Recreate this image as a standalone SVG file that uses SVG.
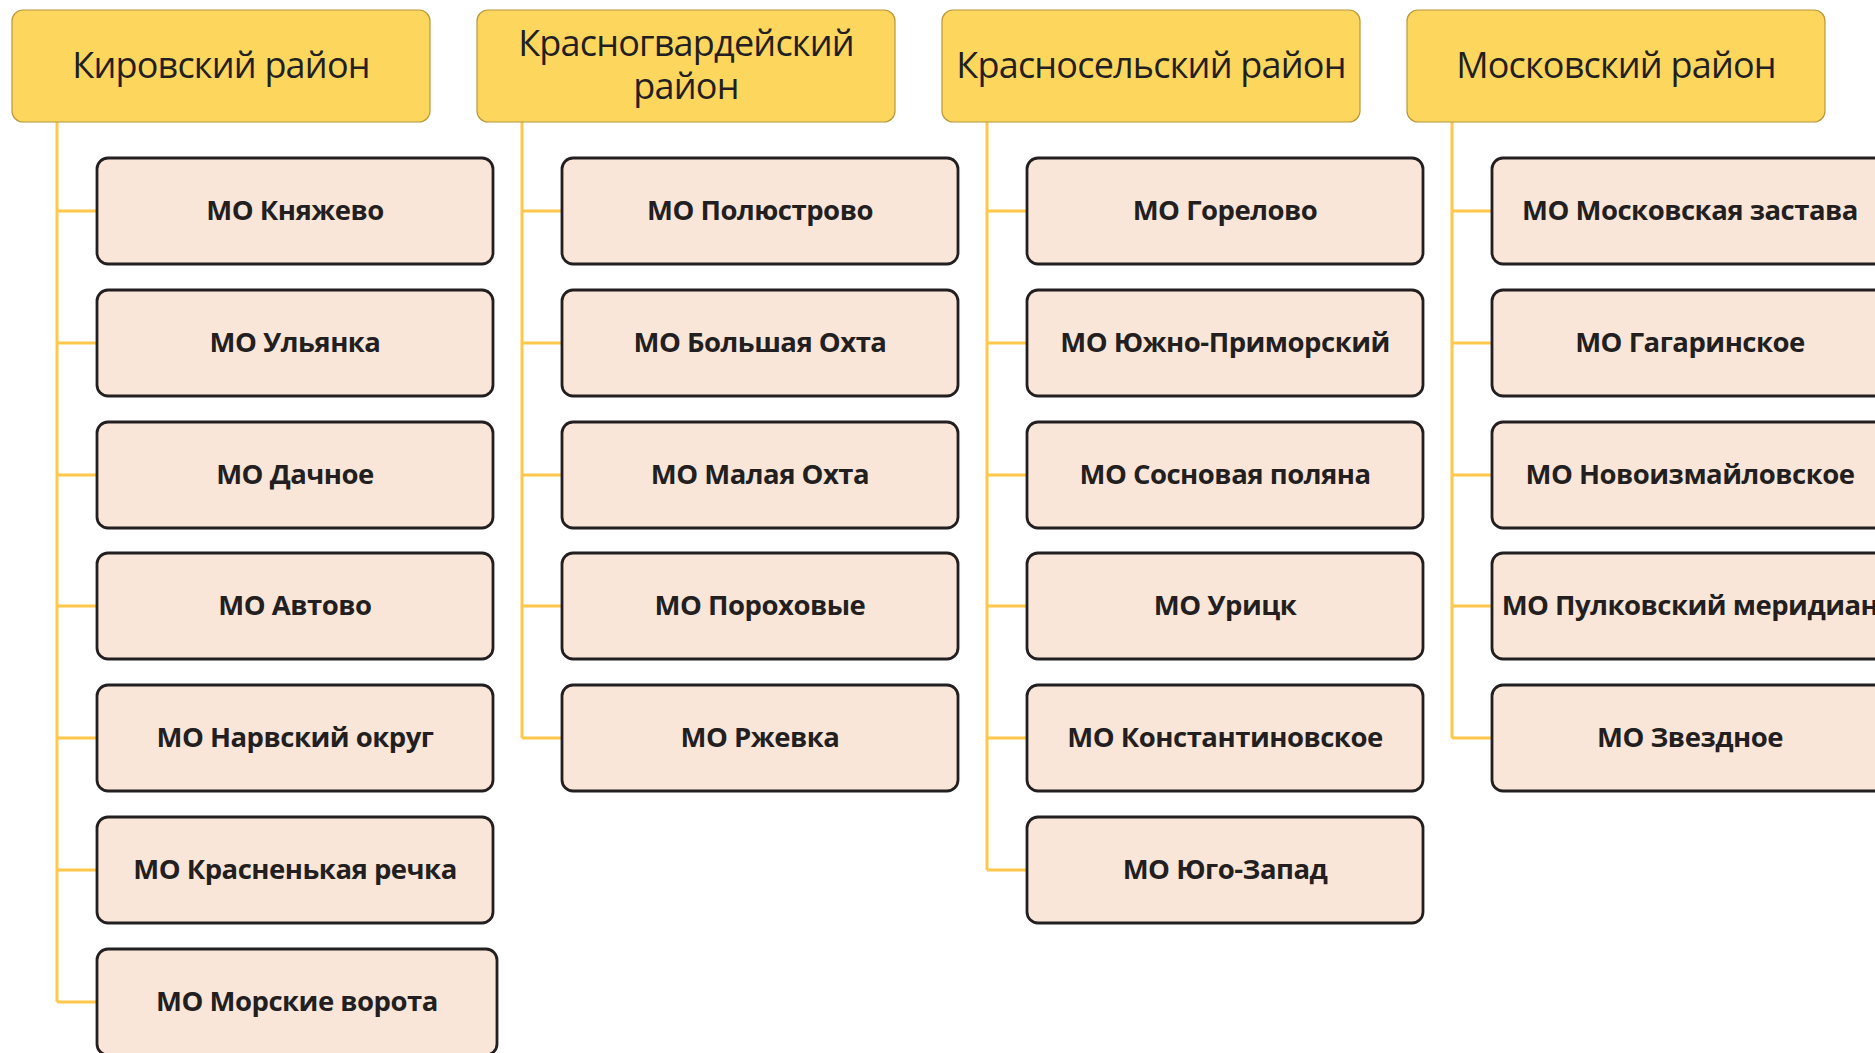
<svg xmlns="http://www.w3.org/2000/svg" width="1875" height="1053" viewBox="0 0 1875 1053">
<style>
.hdr{fill:#FDD65E;stroke:#B8983A;stroke-width:1.2}
.ht{font-family:"Open Sans","Noto Sans",sans-serif;font-size:36px;letter-spacing:-0.8px;fill:#231F20;text-anchor:middle}
.box{fill:#F9E6D8;stroke:#231F20;stroke-width:2.8}
.bt{font-family:"Open Sans","Noto Sans",sans-serif;font-size:27.5px;letter-spacing:-0.5px;font-weight:bold;fill:#231F20;text-anchor:middle}
.con{fill:none;stroke:#FFC84A;stroke-width:3}
</style>
<rect width="1875" height="1053" fill="#FFFFFF"/>
<g id="connectors">
<path class="con" d="M57,122 V1002 M57,211 H97 M57,343 H97 M57,475 H97 M57,606 H97 M57,738 H97 M57,870 H97 M57,1002 H97"/>
<path class="con" d="M522,122 V738 M522,211 H562 M522,343 H562 M522,475 H562 M522,606 H562 M522,738 H562"/>
<path class="con" d="M987,122 V870 M987,211 H1027 M987,343 H1027 M987,475 H1027 M987,606 H1027 M987,738 H1027 M987,870 H1027"/>
<path class="con" d="M1452,122 V738 M1452,211 H1492 M1452,343 H1492 M1452,475 H1492 M1452,606 H1492 M1452,738 H1492"/>
</g>
<g id="h-kirovsky"><rect class="hdr" x="12" y="10" width="418" height="112" rx="11"/><text class="ht" x="221" y="78">Кировский район</text></g>
<g id="h-krasnogvard"><rect class="hdr" x="477" y="10" width="418" height="112" rx="11"/><text class="ht" x="686" y="56">Красногвардейский</text><text class="ht" x="686" y="99">район</text></g>
<g id="h-krasnoselsky"><rect class="hdr" x="942" y="10" width="418" height="112" rx="11"/><text class="ht" x="1151" y="78">Красносельский район</text></g>
<g id="h-moskovsky"><rect class="hdr" x="1407" y="10" width="418" height="112" rx="11"/><text class="ht" x="1616" y="78">Московский район</text></g>

<g id="c0-1"><rect class="box" x="97" y="158" width="396" height="106" rx="11"/><text class="bt" x="295" y="220">МО Княжево</text></g>
<g id="c0-2"><rect class="box" x="97" y="290" width="396" height="106" rx="11"/><text class="bt" x="295" y="352">МО Ульянка</text></g>
<g id="c0-3"><rect class="box" x="97" y="422" width="396" height="106" rx="11"/><text class="bt" x="295" y="484">МО Дачное</text></g>
<g id="c0-4"><rect class="box" x="97" y="553" width="396" height="106" rx="11"/><text class="bt" x="295" y="615">МО Автово</text></g>
<g id="c0-5"><rect class="box" x="97" y="685" width="396" height="106" rx="11"/><text class="bt" x="295" y="747">МО Нарвский округ</text></g>
<g id="c0-6"><rect class="box" x="97" y="817" width="396" height="106" rx="11"/><text class="bt" x="295" y="879">МО Красненькая речка</text></g>
<g id="c0-7"><rect class="box" x="97" y="949" width="400" height="106" rx="11"/><text class="bt" x="297" y="1011">МО Морские ворота</text></g>

<g id="c1-1"><rect class="box" x="562" y="158" width="396" height="106" rx="11"/><text class="bt" x="760" y="220">МО Полюстрово</text></g>
<g id="c1-2"><rect class="box" x="562" y="290" width="396" height="106" rx="11"/><text class="bt" x="760" y="352">МО Большая Охта</text></g>
<g id="c1-3"><rect class="box" x="562" y="422" width="396" height="106" rx="11"/><text class="bt" x="760" y="484">МО Малая Охта</text></g>
<g id="c1-4"><rect class="box" x="562" y="553" width="396" height="106" rx="11"/><text class="bt" x="760" y="615">МО Пороховые</text></g>
<g id="c1-5"><rect class="box" x="562" y="685" width="396" height="106" rx="11"/><text class="bt" x="760" y="747">МО Ржевка</text></g>

<g id="c2-1"><rect class="box" x="1027" y="158" width="396" height="106" rx="11"/><text class="bt" x="1225" y="220">МО Горелово</text></g>
<g id="c2-2"><rect class="box" x="1027" y="290" width="396" height="106" rx="11"/><text class="bt" x="1225" y="352">МО Южно-Приморский</text></g>
<g id="c2-3"><rect class="box" x="1027" y="422" width="396" height="106" rx="11"/><text class="bt" x="1225" y="484">МО Сосновая поляна</text></g>
<g id="c2-4"><rect class="box" x="1027" y="553" width="396" height="106" rx="11"/><text class="bt" x="1225" y="615">МО Урицк</text></g>
<g id="c2-5"><rect class="box" x="1027" y="685" width="396" height="106" rx="11"/><text class="bt" x="1225" y="747">МО Константиновское</text></g>
<g id="c2-6"><rect class="box" x="1027" y="817" width="396" height="106" rx="11"/><text class="bt" x="1225" y="879">МО Юго-Запад</text></g>

<g id="c3-1"><rect class="box" x="1492" y="158" width="396" height="106" rx="11"/><text class="bt" x="1690" y="220">МО Московская застава</text></g>
<g id="c3-2"><rect class="box" x="1492" y="290" width="396" height="106" rx="11"/><text class="bt" x="1690" y="352">МО Гагаринское</text></g>
<g id="c3-3"><rect class="box" x="1492" y="422" width="396" height="106" rx="11"/><text class="bt" x="1690" y="484">МО Новоизмайловское</text></g>
<g id="c3-4"><rect class="box" x="1492" y="553" width="396" height="106" rx="11"/><text class="bt" x="1690" y="615">МО Пулковский меридиан</text></g>
<g id="c3-5"><rect class="box" x="1492" y="685" width="396" height="106" rx="11"/><text class="bt" x="1690" y="747">МО Звездное</text></g>
</svg>
